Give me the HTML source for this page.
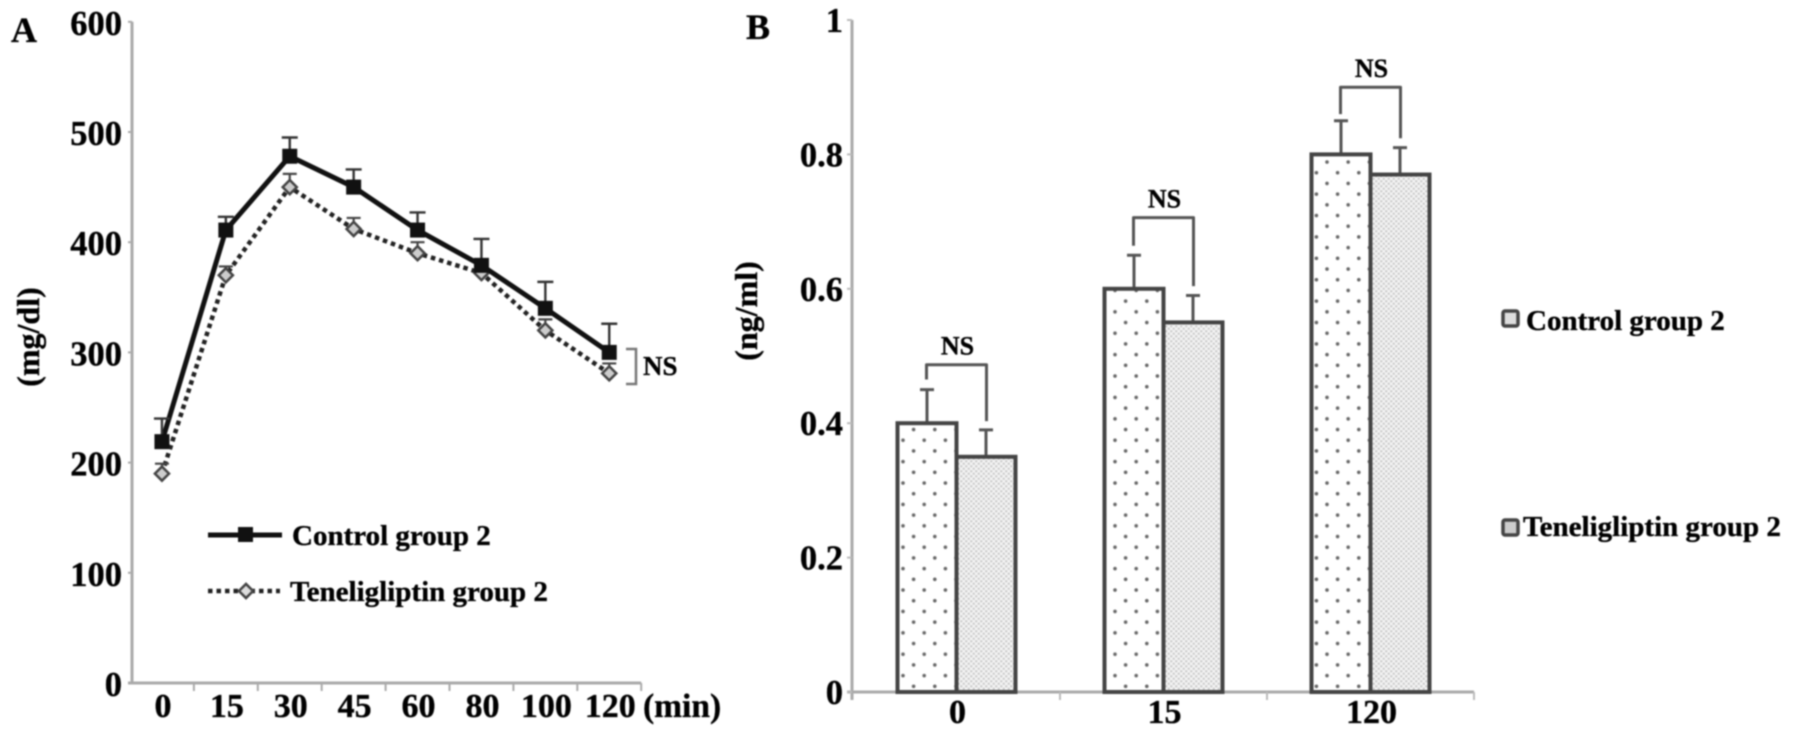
<!DOCTYPE html>
<html lang="en">
<head>
<meta charset="utf-8">
<title>Control vs Teneligliptin group 2</title>
<style>
  html,body{margin:0;padding:0;background:#fff;width:1795px;height:736px;overflow:hidden}
  svg{display:block;filter:blur(.8px)}
  text{font-family:"Liberation Serif",serif;font-weight:bold;fill:#000;stroke:#000;stroke-width:.35px}
</style>
</head>
<body>
<svg id="figure" xmlns="http://www.w3.org/2000/svg" width="1795" height="736" viewBox="0 0 1795 736">
  <defs>
    <pattern id="sparse-dots" width="21.2" height="21.4" patternUnits="userSpaceOnUse" x="898" y="692">
      <circle cx="5" cy="5" r="1.8" fill="#666"/>
      <circle cx="15.6" cy="15.7" r="1.8" fill="#666"/>
    </pattern>
    <pattern id="fine-dots" width="5" height="5" patternUnits="userSpaceOnUse">
      <rect width="5" height="5" fill="#f4f4f4"/>
      <circle cx="1.25" cy="1.25" r="1.15" fill="#c6c6c6"/>
      <circle cx="3.75" cy="3.75" r="1.15" fill="#c6c6c6"/>
    </pattern>
  </defs>
  <g id="panel-a"></g>
  <g id="panel-b"></g>

  <text x="11" y="42" font-size="36">A</text>
  <text x="746" y="39" font-size="36">B</text>
  <text transform="translate(39,337) rotate(-90)" text-anchor="middle" font-size="32">(mg/dl)</text>
  <text transform="translate(757,311) rotate(-90)" text-anchor="middle" font-size="32">(ng/ml)</text>
  <text x="643" y="717" font-size="33.5">(min)</text>

  <g>
    <g>
      <line x1="208" y1="535" x2="282" y2="535" stroke="#111" stroke-width="5"/>
      <rect x="238" y="527" width="15" height="15" fill="#111"/>
      <text x="292" y="545" font-size="29">Control group 2</text>
    </g>
    <g>
      <line x1="208" y1="591" x2="280" y2="591" stroke="#222" stroke-width="4.5" stroke-dasharray="4.5 4"/>
      <rect x="241" y="586" width="10" height="10" transform="rotate(45 246 591)" fill="#ddd" stroke="#444" stroke-width="2.5"/>
      <text x="290" y="601" font-size="29">Teneligliptin group 2</text>
    </g>
  </g>

  <g>
    <path d="M626 349H636V384H626" fill="none" stroke="#777" stroke-width="2.5"/>
    <text x="643" y="375" font-size="27">NS</text>
  </g>

  <g>
    <g>
      <rect x="1503" y="311" width="15" height="15" rx="2" fill="#ddd" stroke="#444" stroke-width="3.5"/>
      <text x="1526" y="330" font-size="29">Control group 2</text>
    </g>
    <g>
      <rect x="1503" y="520" width="15" height="15" rx="2" fill="#ccc" stroke="#444" stroke-width="3.5"/>
      <text x="1523" y="536" font-size="29">Teneligliptin group 2</text>
    </g>
  </g>
</svg>
<script>
// Panel A data
const timesA = ['0', '15', '30', '45', '60', '80', '100', '120'];
const ticksA = [0, 100, 200, 300, 400, 500, 600];
const controlA = [219, 411, 478, 450, 411, 379, 340, 300];
const controlErrA = [21, 12, 17, 16, 16, 24, 24, 26];
const teneA = [190, 370, 450, 412, 390, 372, 320, 281];
const teneErrA = [9, 8, 12, 10, 10, 8, 10, 9];

// Panel B data
const timesB = ['0', '15', '120'];
const ticksB = ['0', '0.2', '0.4', '0.6', '0.8', '1'];
const controlB = [0.4, 0.6, 0.8];
const controlErrB = [0.05, 0.05, 0.05];
const teneB = [0.35, 0.55, 0.77];
const teneErrB = [0.04, 0.04, 0.04];
const bracketTopB = [0.487, 0.706, 0.900];
const bracketLeftEndB = [0.465, 0.664, 0.860];
const bracketRightEndB = [0.403, 0.604, 0.824];
const bracketLabelB = ['NS', 'NS', 'NS'];

const NS = 'http://www.w3.org/2000/svg';
function mk(parent, tag, attrs, txt) {
  const n = document.createElementNS(NS, tag);
  for (const k in attrs) n.setAttribute(k, attrs[k]);
  if (txt !== undefined) n.textContent = txt;
  parent.appendChild(n);
  return n;
}

// ---------- Panel A ----------
const gA = document.getElementById('panel-a');
const ay = v => 683 - v * 1.102;
const aBand = 63.9;
const ax = i => 130 + aBand * (i + 0.5);

const axisYA = mk(gA, 'line', {x1:132, y1:ay(600), x2:132, y2:ay(0), stroke:'#aaa', 'stroke-width':3});


const axisXA = mk(gA, 'line', {x1:128, y1:ay(0), x2:130 + aBand * timesA.length, y2:ay(0), stroke:'#aaa', 'stroke-width':3});



ticksA.forEach(t => {
  const mark = mk(gA, 'line', {x1:128, y1:ay(t), x2:132, y2:ay(t), stroke:'#aaa', 'stroke-width':2});
  
  
  const lab = mk(gA, 'text', {x:122, y:ay(t) + 13, 'text-anchor':'end', 'font-size':34.5}, String(t));
  
  
});
timesA.forEach((t, i) => {
  const mark = mk(gA, 'line', {x1:130 + aBand * (i + 1), y1:ay(0), x2:130 + aBand * (i + 1), y2:ay(0) + 8, stroke:'#aaa', 'stroke-width':2});
  
  
  const lab = mk(gA, 'text', {x:ax(i) + 1, y:717, 'text-anchor':'middle', 'font-size':34}, t);
  
  
});

const lineTene = mk(gA, 'polyline', {
  points: teneA.map((v, i) => ax(i) + ',' + ay(v)).join(' '),
  fill:'none', stroke:'#222', 'stroke-width':4.5, 'stroke-dasharray':'4.5 4'
});


teneA.forEach((v, i) => {
  const err = mk(gA, 'path', {
    d:'M' + ax(i) + ' ' + ay(v) + 'V' + ay(v + teneErrA[i]) + 'M' + (ax(i) - 7) + ' ' + ay(v + teneErrA[i]) + 'H' + (ax(i) + 7),
    fill:'none', stroke:'#444', 'stroke-width':2.2
  });
  
  
  const pt = mk(gA, 'rect', {
    x:ax(i) - 5, y:ay(v) - 5, width:10, height:10,
    transform:'rotate(45 ' + ax(i) + ' ' + ay(v) + ')',
    fill:'#ccc', stroke:'#444', 'stroke-width':2.5
  });
  
  
});

const lineCtrl = mk(gA, 'polyline', {
  points: controlA.map((v, i) => ax(i) + ',' + ay(v)).join(' '),
  fill:'none', stroke:'#111', 'stroke-width':5
});


controlA.forEach((v, i) => {
  const err = mk(gA, 'path', {
    d:'M' + ax(i) + ' ' + ay(v) + 'V' + ay(v + controlErrA[i]) + 'M' + (ax(i) - 8) + ' ' + ay(v + controlErrA[i]) + 'H' + (ax(i) + 8),
    fill:'none', stroke:'#333', 'stroke-width':2.4
  });
  
  
  const pt = mk(gA, 'rect', {x:ax(i) - 7.5, y:ay(v) - 7.5, width:15, height:15, fill:'#111'});
  
  
});

// ---------- Panel B ----------
const gB = document.getElementById('panel-b');
const by = v => 692 - v * 672;
const bBand = 207;
const barW = 59;
const bx = i => 853 + bBand * (i + 0.5);

const axisYB = mk(gB, 'line', {x1:852, y1:by(1), x2:852, y2:by(0) + 8, stroke:'#aaa', 'stroke-width':3});


const axisXB = mk(gB, 'line', {x1:847, y1:by(0), x2:853 + bBand * timesB.length, y2:by(0), stroke:'#aaa', 'stroke-width':3});



ticksB.forEach(t => {
  const mark = mk(gB, 'line', {x1:847, y1:by(+t), x2:852, y2:by(+t), stroke:'#bbb', 'stroke-width':2});
  
  
  const lab = mk(gB, 'text', {x:843, y:by(+t) + 12, 'text-anchor':'end', 'font-size':34.5}, t);
  
  
});
timesB.forEach((t, i) => {
  const mark = mk(gB, 'line', {x1:853 + bBand * (i + 1), y1:by(0), x2:853 + bBand * (i + 1), y2:by(0) + 8, stroke:'#bbb', 'stroke-width':2});
  
  
  const lab = mk(gB, 'text', {x:bx(i) + 1, y:723, 'text-anchor':'middle', 'font-size':34}, t);
  
  
});

function errB(x, v, e, name) {
  const err = mk(gB, 'path', {
    d:'M' + x + ' ' + by(v) + 'V' + by(v + e) + 'M' + (x - 7) + ' ' + by(v + e) + 'H' + (x + 7),
    fill:'none', stroke:'#555', 'stroke-width':3
  });
  
  
}
timesB.forEach((t, i) => {
  const c = bx(i);
  errB(c - barW / 2, controlB[i], controlErrB[i], 'control-bar-error');
  errB(c + barW / 2, teneB[i], teneErrB[i], 'teneligliptin-bar-error');

  const barT = mk(gB, 'rect', {
    x:c, y:by(teneB[i]), width:barW, height:by(0) - by(teneB[i]),
    fill:'url(#fine-dots)', stroke:'#444', 'stroke-width':4
  });
  
  
  const barC = mk(gB, 'rect', {
    x:c - barW, y:by(controlB[i]), width:barW, height:by(0) - by(controlB[i]),
    fill:'url(#sparse-dots)', stroke:'#444', 'stroke-width':4
  });
  
  

  const br = mk(gB, 'path', {
    d:'M' + (c - 30) + ' ' + by(bracketLeftEndB[i]) + 'V' + by(bracketTopB[i]) + 'H' + (c + 30) + 'V' + by(bracketRightEndB[i]),
    fill:'none', stroke:'#555', 'stroke-width':3, 'stroke-linejoin':'round'
  });
  
  
  const ns = mk(gB, 'text', {x:c + 1, y:by(bracketTopB[i]) - 10, 'text-anchor':'middle', 'font-size':26}, bracketLabelB[i]);
  
  
});
</script>
</body>
</html>
